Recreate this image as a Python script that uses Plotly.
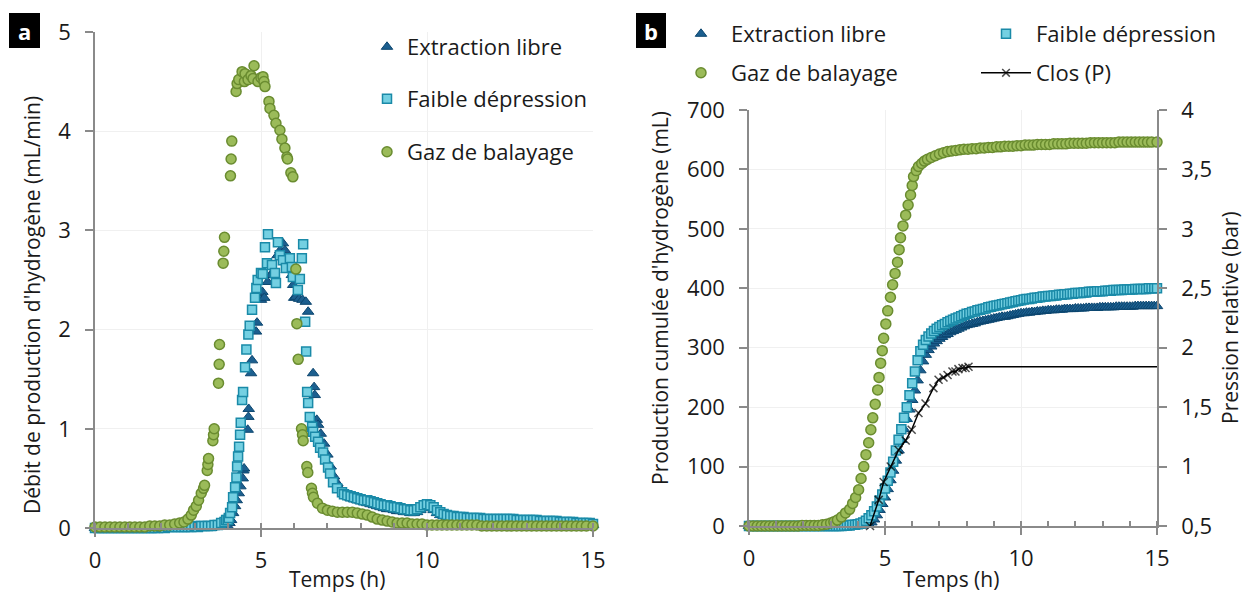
import plotly.graph_objects as go

# ---------------- Panel a : débit de production (mL/min) ----------------
# Extraction libre
el_a_t = [0.0, 0.1, 0.2, 0.3, 0.4, 0.5, 0.6, 0.7, 0.8, 0.9,
          1.0, 1.1, 1.2, 1.3, 1.4, 1.5, 1.6, 1.7, 1.8, 1.9,
          2.0, 2.1, 2.2, 2.3, 2.4, 2.5, 2.6, 2.7, 2.8, 2.9,
          3.0, 3.1, 3.2, 3.3, 3.4, 3.5, 3.6, 3.7, 3.8, 3.9,
          4.0, 4.05, 4.1, 4.16, 4.22, 4.27, 4.33, 4.38, 4.45, 4.47,
          4.49, 4.6, 4.62, 4.63, 4.7, 4.73, 4.85, 4.88, 5.0, 5.04,
          5.1, 5.2, 5.3, 5.4, 5.5, 5.58, 5.66, 5.72, 5.8, 5.87,
          5.93, 5.97, 6.0, 6.05, 6.15, 6.25, 6.35, 6.42, 6.57, 6.6,
          6.62, 6.68, 6.72, 6.8, 6.9, 7.0, 7.1, 7.2, 7.3, 7.4,
          7.5, 7.6, 7.7, 7.8, 7.9, 8.0, 8.1, 8.2, 8.3, 8.4,
          8.5, 8.6, 8.7, 8.8, 8.9, 9.0, 9.1, 9.2, 9.3, 9.4,
          9.5, 9.6, 9.7, 9.8, 9.9, 10.0, 10.1, 10.2, 10.3, 10.4,
          10.5, 10.6, 10.7, 10.8, 10.9, 11.0, 11.1, 11.2, 11.3, 11.4,
          11.5, 11.6, 11.7, 11.8, 11.9, 12.0, 12.1, 12.2, 12.3, 12.4,
          12.5, 12.6, 12.7, 12.8, 12.9, 13.0, 13.1, 13.2, 13.3, 13.4,
          13.5, 13.6, 13.7, 13.8, 13.9, 14.0, 14.1, 14.2, 14.3, 14.4,
          14.5, 14.6, 14.7, 14.8, 14.9, 15.0]
el_a_v = [0.00, 0.00, 0.00, 0.00, 0.00, 0.00, 0.00, 0.00, 0.00, 0.00,
          0.00, 0.00, 0.00, 0.00, 0.00, 0.00, 0.00, 0.00, 0.00, 0.00,
          0.00, 0.00, 0.00, 0.00, 0.00, 0.00, 0.00, 0.00, 0.00, 0.00,
          0.00, 0.00, 0.00, 0.00, 0.00, 0.00, 0.01, 0.01, 0.01, 0.01,
          0.02, 0.05, 0.08, 0.15, 0.22, 0.28, 0.35, 0.42, 0.50, 0.58,
          0.60, 0.99, 1.12, 1.20, 1.56, 1.69, 1.98, 2.07, 2.30, 2.38,
          2.32, 2.48, 2.55, 2.60, 2.75, 2.80, 2.87, 2.80, 2.72, 2.68,
          2.55, 2.45, 2.32, 2.33, 2.31, 2.30, 2.28, 2.18, 1.56, 1.42,
          1.34, 1.09, 1.04, 0.95, 0.85, 0.74, 0.62, 0.52, 0.45, 0.39,
          0.35, 0.32, 0.30, 0.29, 0.28, 0.27, 0.26, 0.25, 0.24, 0.23,
          0.22, 0.21, 0.20, 0.19, 0.19, 0.18, 0.17, 0.17, 0.16, 0.16,
          0.15, 0.15, 0.16, 0.18, 0.20, 0.21, 0.20, 0.18, 0.15, 0.13,
          0.12, 0.11, 0.10, 0.10, 0.09, 0.09, 0.09, 0.09, 0.09, 0.08,
          0.08, 0.08, 0.08, 0.08, 0.08, 0.08, 0.07, 0.07, 0.07, 0.07,
          0.07, 0.07, 0.07, 0.06, 0.06, 0.06, 0.06, 0.06, 0.06, 0.06,
          0.05, 0.05, 0.05, 0.05, 0.05, 0.05, 0.04, 0.04, 0.04, 0.04,
          0.04, 0.04, 0.03, 0.03, 0.03, 0.03]

# Faible dépression
fd_a_t = [0.0, 0.1, 0.2, 0.3, 0.4, 0.5, 0.6, 0.7, 0.8, 0.9,
          1.0, 1.1, 1.2, 1.3, 1.4, 1.5, 1.6, 1.7, 1.8, 1.9,
          2.0, 2.1, 2.2, 2.3, 2.4, 2.5, 2.6, 2.7, 2.8, 2.9,
          3.0, 3.1, 3.2, 3.3, 3.4, 3.5, 3.6, 3.7, 3.8, 3.9,
          3.95, 4.0, 4.03, 4.07, 4.13, 4.16, 4.22, 4.26, 4.28, 4.31,
          4.34, 4.37, 4.39, 4.43, 4.46, 4.52, 4.56, 4.62, 4.66, 4.73,
          4.82, 4.86, 4.9, 5.0, 5.05, 5.12, 5.18, 5.21, 5.33, 5.42,
          5.45, 5.51, 5.57, 5.66, 5.75, 5.87, 5.93, 5.96, 6.11, 6.17,
          6.23, 6.27, 6.33, 6.36, 6.39, 6.42, 6.47, 6.54, 6.57, 6.63,
          6.72, 6.78, 6.87, 6.93, 7.02, 7.08, 7.17, 7.29, 7.44,
          7.5, 7.6, 7.7, 7.8, 7.9, 8.0, 8.1, 8.2, 8.3, 8.4,
          8.5, 8.6, 8.7, 8.8, 8.9, 9.0, 9.1, 9.2, 9.3, 9.4,
          9.5, 9.6, 9.7, 9.8, 9.9, 10.0, 10.1, 10.2, 10.3, 10.4,
          10.5, 10.6, 10.7, 10.8, 10.9, 11.0, 11.1, 11.2, 11.3, 11.4,
          11.5, 11.6, 11.7, 11.8, 11.9, 12.0, 12.1, 12.2, 12.3, 12.4,
          12.5, 12.6, 12.7, 12.8, 12.9, 13.0, 13.1, 13.2, 13.3, 13.4,
          13.5, 13.6, 13.7, 13.8, 13.9, 14.0, 14.1, 14.2, 14.3, 14.4,
          14.5, 14.6, 14.7, 14.8, 14.9, 15.0]
fd_a_v = [0.00, 0.00, 0.00, 0.00, 0.00, 0.00, 0.00, 0.00, 0.00, 0.00,
          0.00, 0.00, 0.00, 0.00, 0.00, 0.00, 0.00, 0.00, 0.00, 0.00,
          0.01, 0.00, 0.01, 0.01, 0.01, 0.01, 0.01, 0.01, 0.01, 0.01,
          0.02, 0.01, 0.02, 0.02, 0.02, 0.02, 0.03, 0.03, 0.05, 0.06,
          0.08, 0.08, 0.10, 0.15, 0.21, 0.31, 0.41, 0.51, 0.62, 0.72,
          0.82, 0.94, 1.06, 1.29, 1.37, 1.62, 1.80, 1.95, 2.04, 2.20,
          2.32, 2.42, 2.50, 2.57, 2.56, 2.83, 2.67, 2.96, 2.65, 2.57,
          2.47, 2.88, 2.75, 2.70, 2.62, 2.72, 2.63, 2.53, 2.40, 2.51,
          2.72, 2.86, 2.08, 1.78, 1.37, 1.26, 1.12, 1.02, 0.97, 0.92,
          0.87, 0.81, 0.76, 0.69, 0.61, 0.55, 0.46, 0.40, 0.36,
          0.34, 0.33, 0.32, 0.31, 0.30, 0.29, 0.28, 0.28, 0.27, 0.26,
          0.25, 0.24, 0.23, 0.23, 0.22, 0.21, 0.21, 0.20, 0.19, 0.19,
          0.18, 0.18, 0.19, 0.21, 0.23, 0.24, 0.23, 0.21, 0.18, 0.16,
          0.14, 0.13, 0.12, 0.12, 0.11, 0.11, 0.11, 0.10, 0.10, 0.10,
          0.10, 0.10, 0.09, 0.09, 0.09, 0.09, 0.09, 0.09, 0.09, 0.09,
          0.09, 0.09, 0.08, 0.08, 0.08, 0.08, 0.08, 0.08, 0.08, 0.07,
          0.07, 0.07, 0.07, 0.07, 0.07, 0.06, 0.06, 0.06, 0.06, 0.06,
          0.05, 0.05, 0.05, 0.05, 0.05, 0.04]

# Gaz de balayage
gb_a_t = [0.0, 0.15, 0.3, 0.45, 0.6, 0.75, 0.9, 1.05, 1.2, 1.35,
          1.5, 1.65, 1.8, 1.95, 2.1, 2.25, 2.4, 2.55, 2.68, 2.8,
          2.9, 2.97, 3.05, 3.12, 3.2, 3.27, 3.3, 3.38, 3.4, 3.42,
          3.55, 3.57, 3.59, 3.72, 3.74, 3.75, 3.86, 3.88, 3.9, 4.08,
          4.1, 4.12, 4.25, 4.28, 4.33, 4.43, 4.5, 4.52, 4.61, 4.7,
          4.76, 4.79, 4.91, 5.0, 5.06, 5.09, 5.12, 5.24, 5.27, 5.39,
          5.45, 5.57, 5.63, 5.72, 5.78, 5.8, 5.9, 5.96, 6.05, 6.08,
          6.12, 6.22, 6.25, 6.27, 6.38, 6.41, 6.52, 6.55, 6.58, 6.7,
          6.85, 7.0, 7.15, 7.3, 7.45, 7.6, 7.75, 7.9, 8.05, 8.2,
          8.35, 8.5, 8.65, 8.8, 8.95, 9.1, 9.25, 9.4, 9.55, 9.7,
          9.85, 10.0, 10.15, 10.3, 10.45, 10.6, 10.75, 10.9, 11.05, 11.2,
          11.35, 11.5, 11.65, 11.8, 11.95, 12.1, 12.25, 12.4, 12.55, 12.7,
          12.85, 13.0, 13.15, 13.3, 13.45, 13.6, 13.75, 13.9, 14.05, 14.2,
          14.35, 14.5, 14.65, 14.8, 15.0]
gb_a_v = [0.01, 0.01, 0.01, 0.01, 0.01, 0.01, 0.01, 0.01, 0.01, 0.01,
          0.01, 0.02, 0.02, 0.02, 0.03, 0.03, 0.04, 0.05, 0.06, 0.09,
          0.13, 0.18, 0.22, 0.28, 0.35, 0.40, 0.43, 0.58, 0.64, 0.70,
          0.88, 0.94, 1.00, 1.46, 1.65, 1.85, 2.67, 2.79, 2.93, 3.55,
          3.72, 3.90, 4.40, 4.48, 4.52, 4.60, 4.50, 4.58, 4.52, 4.56,
          4.53, 4.66, 4.50, 4.54, 4.55, 4.50, 4.45, 4.30, 4.23, 4.16,
          4.08, 4.01, 3.92, 3.83, 3.74, 3.72, 3.58, 3.54, 2.61, 2.06,
          1.70, 1.00, 0.94, 0.88, 0.62, 0.56, 0.40, 0.35, 0.31, 0.25,
          0.20, 0.18, 0.17, 0.16, 0.16, 0.16, 0.16, 0.15, 0.14, 0.13,
          0.11, 0.09, 0.08, 0.07, 0.06, 0.05, 0.05, 0.05, 0.04, 0.04,
          0.04, 0.03, 0.03, 0.03, 0.03, 0.03, 0.03, 0.03, 0.03, 0.03,
          0.03, 0.03, 0.02, 0.02, 0.02, 0.02, 0.02, 0.02, 0.02, 0.02,
          0.02, 0.02, 0.02, 0.02, 0.02, 0.02, 0.02, 0.02, 0.02, 0.02,
          0.02, 0.02, 0.02, 0.02, 0.02]

# ---------------- Panel b : production cumulée (mL) & pression (bar) ----------------
b_t0 = 0.0   # first time of the regularly sampled cumulative series (h)
b_dt = 0.1   # sampling step (h)

el_b_v = [0, 0, 0, 0, 0, 0, 0, 0, 0, 0,
          0, 0, 0, 0, 0, 0, 0, 0, 0, 0,
          0, 0, 0, 0, 0, 0, 0, 0, 0, 0,
          0, 0, 0, 0, 0, 0, 0, 0, 0, 0,
          0.5, 1, 1, 2, 3, 6, 11, 18, 27, 37,
          48, 62, 77, 93, 110, 127, 145, 163, 180, 196,
          212, 228, 245, 262, 277, 288, 296, 302, 307, 311,
          315, 318, 321, 323, 326, 328, 330, 332, 334, 336,
          338, 339, 340, 341, 343, 344, 345, 346, 347, 348,
          349, 350, 351, 352, 352, 353, 354, 355, 356, 357,
          358, 358, 359, 359, 360, 360, 361, 361, 362, 362,
          363, 363, 363, 364, 364, 364, 365, 365, 365, 365,
          366, 366, 366, 366, 367, 367, 367, 367, 367, 368,
          368, 368, 368, 368, 368, 369, 369, 369, 369, 369,
          369, 369, 370, 370, 370, 370, 370, 370, 370, 370,
          370]

fd_b_v = [0, 0, 0, 0, 0, 0, 0, 0, 0, 0,
          0, 0, 0, 0, 0, 0, 0, 0, 0, 0,
          0, 0, 0, 0, 0, 0, 0, 0, 0, 0,
          0, 0, 0, 0, 0, 0.5, 1, 1, 2, 2,
          3, 4, 6, 9, 13, 18, 25, 33, 43, 53,
          63, 76, 90, 108, 127, 145, 163, 182, 200, 220,
          240, 260, 279, 294, 305, 313, 319, 324, 328, 332,
          335, 338, 340, 343, 345, 347, 349, 351, 353, 355,
          357, 358, 360, 361, 363, 364, 365, 366, 368, 369,
          370, 371, 372, 373, 374, 375, 376, 377, 378, 379,
          380, 381, 382, 382, 383, 384, 384, 385, 386, 386,
          387, 387, 388, 388, 389, 389, 390, 390, 391, 391,
          392, 392, 392, 393, 393, 394, 394, 394, 395, 395,
          395, 396, 396, 396, 397, 397, 397, 397, 398, 398,
          398, 398, 399, 399, 399, 399, 399, 400, 400, 400,
          400]

gb_b_t = [0.0, 0.15, 0.3, 0.45, 0.6, 0.75, 0.9, 1.05, 1.2, 1.35,
          1.5, 1.65, 1.8, 1.95, 2.1, 2.25, 2.4, 2.55, 2.7, 2.85,
          3.0, 3.12, 3.25, 3.4, 3.55, 3.7, 3.81, 3.92, 4.03, 4.12,
          4.22, 4.3, 4.4, 4.48, 4.55, 4.64, 4.73, 4.78, 4.84, 4.9,
          4.95, 5.03, 5.1, 5.2, 5.28, 5.37, 5.46, 5.52, 5.57, 5.66,
          5.76, 5.85, 5.94, 6.0, 6.05, 6.15, 6.23, 6.35, 6.45, 6.56,
          6.7, 6.85, 7.0, 7.15, 7.3, 7.45, 7.6, 7.75, 7.9, 8.05,
          8.2, 8.35, 8.5, 8.65, 8.8, 8.95, 9.1, 9.25, 9.4, 9.55,
          9.7, 9.85, 10.0, 10.15, 10.3, 10.45, 10.6, 10.75, 10.9, 11.05,
          11.2, 11.35, 11.5, 11.65, 11.8, 11.95, 12.1, 12.25, 12.4, 12.55,
          12.7, 12.85, 13.0, 13.15, 13.3, 13.45, 13.6, 13.75, 13.9, 14.05,
          14.2, 14.35, 14.5, 14.65, 14.8, 15.0]
gb_b_v = [0, 0, 0, 0, 0, 0, 0, 0, 0, 0,
          0, 0, 0, 1, 1, 1, 1, 1, 2, 3,
          5, 7, 10, 15, 22, 28, 38, 48, 61, 80,
          100, 120, 140, 162, 182, 205, 229, 250, 274, 295,
          316, 340, 362, 385, 406, 425, 444, 465, 485, 505,
          523, 540, 557, 573, 588, 598, 605, 610, 614, 617,
          620, 623, 626, 628, 630, 631, 632, 633, 634, 634,
          635, 635, 636, 636, 637, 637, 638, 638, 639, 639,
          639, 640, 640, 641, 641, 641, 642, 642, 642, 642,
          643, 643, 643, 643, 644, 644, 644, 644, 644, 645,
          645, 645, 645, 645, 645, 645, 646, 646, 646, 646,
          646, 646, 646, 646, 646, 646]

# Clos (P) : pression relative (bar)
cp_t = [4.45, 4.77, 4.95, 5.21, 5.5, 5.76, 5.98, 6.23, 6.49, 6.78,
        6.97, 7.15, 7.3, 7.48, 7.59, 7.7, 7.85, 7.96, 8.07, 15.0]
cp_v = [0.50, 0.72, 0.87, 1.00, 1.14, 1.22, 1.31, 1.45, 1.53, 1.66,
        1.73, 1.75, 1.77, 1.80, 1.80, 1.82, 1.83, 1.83, 1.84, 1.84]

p_ticks = [0.5, 1, 1.5, 2, 2.5, 3, 3.5, 4]
p_labels = ["0,5", "1", "1,5", "2", "2,5", "3", "3,5", "4"]

# ---------------- styles ----------------
W, H = 1246, 592
FONT = "Open Sans"
C_EL, C_EL_LINE = "#1c5f8f", "#0c466f"
C_FD, C_FD_LINE = "#74d0e2", "#1a8aa8"
C_GB, C_GB_LINE = "#9bbb59", "#6a8c30"
AXC = "#8a8a8a"
GRID = "#f0f0f0"

def px_x(v):
    return v / W

def px_y(v):
    return 1 - v / H

el_m = dict(symbol="triangle-up", size=10, color=C_EL, line=dict(color=C_EL_LINE, width=1))
fd_m = dict(symbol="square", size=9, color=C_FD, line=dict(color=C_FD_LINE, width=1.5))
gb_m = dict(symbol="circle", size=10, color=C_GB, line=dict(color=C_GB_LINE, width=1.5))

fig = go.Figure()
# panel a
fig.add_trace(go.Scatter(x=el_a_t, y=el_a_v, mode="markers", name="Extraction libre", marker=el_m,
                         xaxis="x", yaxis="y", cliponaxis=False, legend="legend"))
fig.add_trace(go.Scatter(x=fd_a_t, y=fd_a_v, mode="markers", name="Faible dépression", marker=fd_m,
                         xaxis="x", yaxis="y", cliponaxis=False, legend="legend2"))
fig.add_trace(go.Scatter(x=gb_a_t, y=gb_a_v, mode="markers", name="Gaz de balayage", marker=gb_m,
                         xaxis="x", yaxis="y", cliponaxis=False, legend="legend3"))
# panel b
fig.add_trace(go.Scatter(x0=b_t0, dx=b_dt, y=el_b_v, mode="markers", name="Extraction libre", marker=el_m,
                         xaxis="x2", yaxis="y2", cliponaxis=False, legend="legend4"))
fig.add_trace(go.Scatter(x0=b_t0, dx=b_dt, y=fd_b_v, mode="markers", name="Faible dépression", marker=fd_m,
                         xaxis="x2", yaxis="y2", cliponaxis=False, legend="legend5"))
fig.add_trace(go.Scatter(x=gb_b_t, y=gb_b_v, mode="markers", name="Gaz de balayage", marker=gb_m,
                         xaxis="x2", yaxis="y2", cliponaxis=False, legend="legend6"))
cp_sizes = [8] * (len(cp_t) - 1) + [0]
fig.add_trace(go.Scatter(x=cp_t, y=cp_v, mode="lines+markers", name="Clos (P)",
                         line=dict(color="black", width=1.5),
                         marker=dict(symbol="x-thin", size=cp_sizes, color="black",
                                     line=dict(color="black", width=1.5)),
                         xaxis="x2", yaxis="y3", cliponaxis=False, legend="legend7"))

tickfont = dict(family=FONT, size=22, color="#1a1a1a")
common_x = dict(range=[0, 15], dtick=5, tick0=0, showline=True, linecolor=AXC, linewidth=1.5,
                ticks="outside", ticklen=7, tickwidth=1.5, tickcolor=AXC,
                minor=dict(dtick=1, ticks="inside", ticklen=5, tickwidth=1.5, tickcolor=AXC, showgrid=False),
                showgrid=True, gridcolor=GRID, zeroline=False, tickfont=tickfont, ticklabelstandoff=5,
                automargin=False)
common_y = dict(showline=True, linecolor=AXC, linewidth=1.5, ticks="outside", ticklen=8, tickwidth=1.5,
                tickcolor=AXC, showgrid=True, gridcolor=GRID, zeroline=False, tickfont=tickfont,
                ticklabelstandoff=10, automargin=False)

leg_common = dict(font=dict(family=FONT, size=22, color="#1a1a1a"), bgcolor="rgba(0,0,0,0)",
                  xanchor="left", yanchor="middle", orientation="v", borderwidth=0)

fig.update_layout(
    width=W, height=H, margin=dict(l=0, r=0, t=0, b=0, autoexpand=False),
    paper_bgcolor="white", plot_bgcolor="white",
    font=dict(family=FONT, size=22, color="#1a1a1a"),
    xaxis=dict(domain=[px_x(95), px_x(593)], anchor="y", **common_x),
    yaxis=dict(domain=[px_y(528), px_y(32)], anchor="x", range=[0, 5], dtick=1, **common_y),
    xaxis2=dict(domain=[px_x(749), px_x(1157)], anchor="y2", **common_x),
    yaxis2=dict(domain=[px_y(526), px_y(110)], anchor="x2", range=[0, 700], dtick=100, **common_y),
    yaxis3=dict(overlaying="y2", anchor="x2", side="right", range=[0.5, 4], tickvals=p_ticks,
                ticktext=p_labels, showline=True, linecolor=AXC, linewidth=1.5, ticks="outside",
                ticklen=8, tickwidth=1.5, tickcolor=AXC, showgrid=False, zeroline=False,
                tickfont=tickfont, ticklabelstandoff=10, automargin=False),
    legend=dict(x=px_x(367), y=px_y(47), **leg_common),
    legend2=dict(x=px_x(367), y=px_y(99), **leg_common),
    legend3=dict(x=px_x(367), y=px_y(152), **leg_common),
    legend4=dict(x=px_x(671), y=px_y(34), itemwidth=50, **leg_common),
    legend5=dict(x=px_x(976), y=px_y(34), itemwidth=50, **leg_common),
    legend6=dict(x=px_x(671), y=px_y(73), itemwidth=50, **leg_common),
    legend7=dict(x=px_x(976), y=px_y(73), itemwidth=50, **leg_common),
    showlegend=True,
)

# panel tags
for x0, x1, lab in [(9, 40, "a"), (636, 666, "b")]:
    fig.add_shape(type="rect", xref="paper", yref="paper", x0=px_x(x0), x1=px_x(x1),
                  y0=px_y(48), y1=px_y(13), fillcolor="black", line=dict(width=0))
    fig.add_annotation(x=px_x((x0 + x1) / 2), y=px_y(31), xref="paper", yref="paper", text="<b>%s</b>" % lab,
                       showarrow=False, font=dict(family=FONT, size=22, color="white"),
                       xanchor="center", yanchor="middle")

# axis titles
titles = [
    (32, 305, "Débit de production d'hydrogène (mL/min)", -90),
    (337, 579, "Temps (h)", 0),
    (660, 298, "Production cumulée d'hydrogène (mL)", -90),
    (1230, 318, "Pression relative (bar)", -90),
    (951, 579, "Temps (h)", 0),
]
for x, y, txt, ang in titles:
    fig.add_annotation(x=px_x(x), y=px_y(y), xref="paper", yref="paper", text=txt, textangle=ang,
                       showarrow=False, font=dict(family=FONT, size=21, color="#1a1a1a"),
                       xanchor="center", yanchor="middle")

# the page's default body margin would offset the figure; remove it
fig.write_html("out.html", config={"displayModeBar": False},
               post_script="document.body.style.margin='0';")
